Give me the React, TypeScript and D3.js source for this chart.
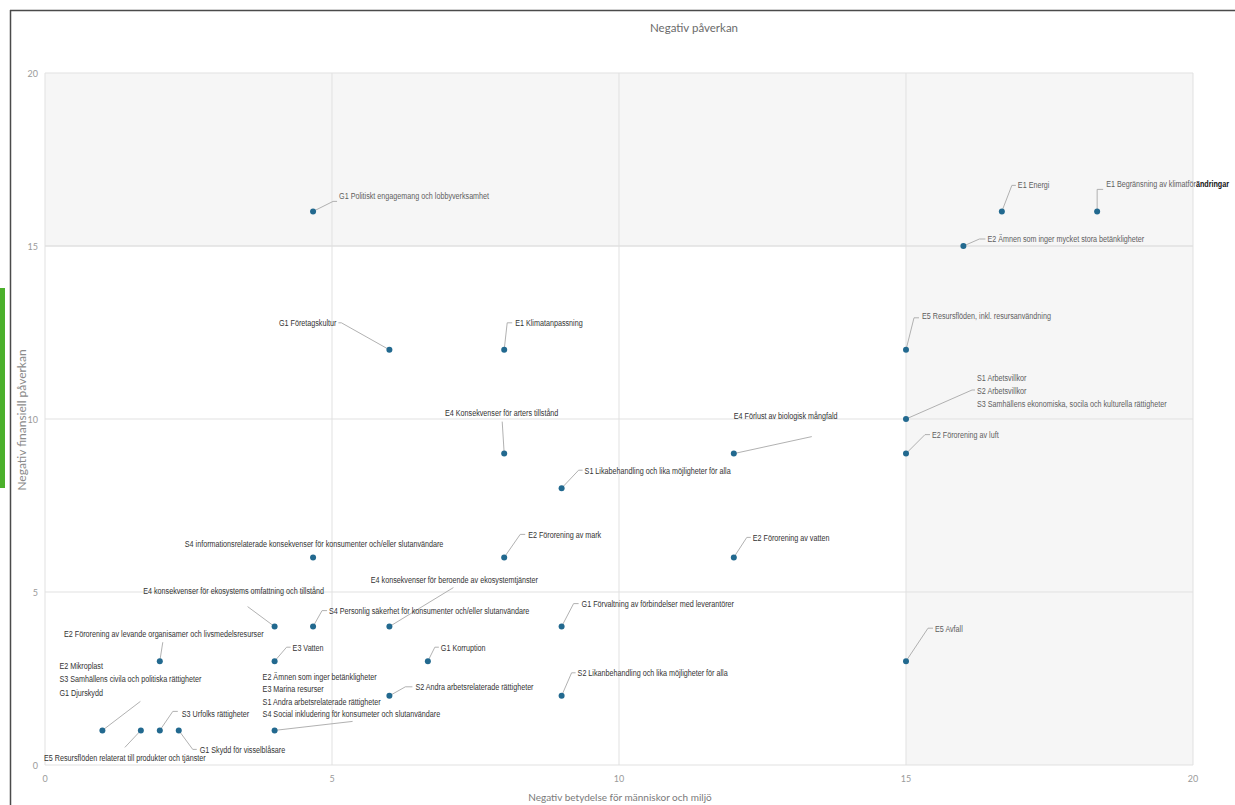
import React from "react";
import * as d3 from "d3";

// ---- data ----
const labels: string[] = [
  "G1 Politiskt engagemang och lobbyverksamhet",
  "E1 Energi",
  "E1 Begränsning av klimatförändringar",
  "E2 Ämnen som inger mycket stora betänkligheter",
  "G1 Företagskultur",
  "E1 Klimatanpassning",
  "E5 Resursflöden, inkl. resursanvändning",
  "S1 Arbetsvillkor\nS2 Arbetsvillkor\nS3 Samhällens ekonomiska, socila och kulturella rättigheter",
  "E4 Konsekvenser för arters tillstånd",
  "E4 Förlust av biologisk mångfald",
  "E2 Förorening av luft",
  "S1 Likabehandling och lika möjligheter för alla",
  "S4 informationsrelaterade konsekvenser för konsumenter och/eller slutanvändare",
  "E2 Förorening av mark",
  "E2 Förorening av vatten",
  "E4 konsekvenser för ekosystems omfattning och tillstånd",
  "S4 Personlig säkerhet för konsumenter och/eller slutanvändare",
  "E4 konsekvenser för beroende av ekosystemtjänster",
  "G1 Förvaltning av förbindelser med leverantörer",
  "E2 Förorening av levande organisamer och livsmedelsresurser",
  "E3 Vatten",
  "G1 Korruption",
  "E5 Avfall",
  "S2 Andra arbetsrelaterade rättigheter",
  "S2 Likanbehandling och lika möjligheter för alla",
  "E2 Mikroplast\nS3 Samhällens civila och politiska rättigheter\nG1 Djurskydd",
  "E5 Resursflöden relaterat till produkter och tjänster",
  "S3 Urfolks rättigheter",
  "G1 Skydd för visselblåsare",
  "E2 Ämnen som inger betänkligheter\nE3 Marina resurser\nS1 Andra arbetsrelaterade rättigheter\nS4 Social inkludering för konsumeter och slutanvändare",
];

const impactValues: number[] = [
  4.67, 16.67, 18.33, 16, 6, 8, 15, 15, 8, 12, 15, 9, 4.67, 8, 12, 4, 4.67, 6, 9, 2, 4,
  6.67, 15, 6, 9, 1, 1.67, 2, 2.33, 4,
];

const financialValues: number[] = [
  16, 16, 16, 15, 12, 12, 12, 10, 9, 9, 9, 8, 6, 6, 6, 4, 4, 4, 4, 3, 3, 3, 3, 2, 2, 1, 1,
  1, 1, 1,
];

const tickValues: number[] = [0, 5, 10, 15, 20];

const chartTitle = "Negativ påverkan";
const xTitle = "Negativ betydelse för människor och miljö";
const yTitle = "Negativ finansiell påverkan";

// ---- label layout (pixel offsets from the point) ----
type Layout = {
  dx: number;
  dy: number;
  anchor: "start" | "middle" | "end";
  leader: [number, number][];
  lh?: number;
};

const labelLayout: Layout[] = [
  { dx: 26, dy: -16, anchor: "start", leader: [[20, -10], [24, -10]] },
  { dx: 16, dy: -27, anchor: "start", leader: [[10, -26], [14, -26]] },
  { dx: 9, dy: -28, anchor: "start", leader: [[0, -22], [6, -22]] },
  { dx: 24, dy: -7, anchor: "start", leader: [[16, -7], [22, -7]] },
  { dx: -53, dy: -27, anchor: "end", leader: [[-48, -27], [-51, -27]] },
  { dx: 11, dy: -27, anchor: "start", leader: [[3, -27], [8, -27]] },
  { dx: 16, dy: -34, anchor: "start", leader: [[8, -32], [13, -32]] },
  { dx: 71, dy: -41, anchor: "start", leader: [[66, -29], [69, -29]], lh: 13 },
  { dx: -2.5, dy: -41, anchor: "middle", leader: [[-2, -32]] },
  { dx: 0, dy: -38, anchor: "start", leader: [[78, -17]] },
  { dx: 26, dy: -19, anchor: "start", leader: [[19, -19], [24, -19]] },
  { dx: 23, dy: -18, anchor: "start", leader: [[17, -18], [21, -18]] },
  { dx: 1, dy: -14, anchor: "middle", leader: [] },
  { dx: 24, dy: -23, anchor: "start", leader: [[16, -23], [21, -23]] },
  { dx: 19, dy: -20, anchor: "start", leader: [[13, -20], [17, -20]] },
  { dx: -41, dy: -36, anchor: "middle", leader: [[-27, -20]] },
  { dx: 16, dy: -16, anchor: "start", leader: [[9, -16], [14, -16]] },
  { dx: 65, dy: -47, anchor: "middle", leader: [[64, -39]] },
  { dx: 20, dy: -23, anchor: "start", leader: [[12, -23], [17, -23]] },
  { dx: 4, dy: -28, anchor: "middle", leader: [[3, -19]] },
  { dx: 18, dy: -14, anchor: "start", leader: [[12, -14], [16, -14]] },
  { dx: 13, dy: -14, anchor: "start", leader: [[7, -14], [11, -14]] },
  { dx: 29, dy: -33, anchor: "start", leader: [[22, -33], [27, -33]] },
  { dx: 26, dy: -9, anchor: "start", leader: [[16, -9], [23, -9]] },
  { dx: 16, dy: -23, anchor: "start", leader: [[10, -23], [14, -23]] },
  { dx: -43, dy: -65, anchor: "start", leader: [[38, -29]], lh: 13.5 },
  { dx: -16, dy: 27, anchor: "middle", leader: [[-16, 17]] },
  { dx: 22, dy: -17, anchor: "start", leader: [[13, -19], [18, -19]] },
  { dx: 21, dy: 19, anchor: "start", leader: [[14, 19], [18, 19]] },
  { dx: -12, dy: -54, anchor: "start", leader: [[78, -9]], lh: 12.5 },
];

const W = 1235;
const H = 805;
const LABEL_FONT = "'Liberation Sans', Arial, sans-serif";
const LABEL_SCALE = 0.8;
const UI_FONT = "Lato, 'Open Sans', 'Noto Sans', sans-serif";

export default function App() {
  const x = d3.scaleLinear().domain([0, 20]).range([45, 1193]);
  const y = d3.scaleLinear().domain([0, 20]).range([765, 73]);
  const line = d3.line<[number, number]>();

  const points = labels.map((name, i) => ({
    name,
    vx: impactValues[i],
    vy: financialValues[i],
    px: x(impactValues[i]),
    py: y(financialValues[i]),
    layout: labelLayout[i],
  }));

  const shade = "#f6f6f6";
  const grid = "#e1e1e1";

  return (
    <div style={{ position: "absolute", left: 0, top: 0 }}>
      <svg width={W} height={H} style={{ display: "block", background: "#fff" }}>
        {/* frame */}
        <line x1={10.5} y1={10} x2={10.5} y2={H} stroke="#4a4a4a" strokeWidth={1.5} />
        <line x1={10} y1={10.5} x2={W} y2={10.5} stroke="#4a4a4a" strokeWidth={1.5} />
        <rect x={0} y={288} width={5} height={200} fill="#4bb02b" />

        {/* shaded quadrants */}
        <rect x={x(0)} y={y(20)} width={x(20) - x(0)} height={y(15) - y(20)} fill={shade} />
        <rect x={x(15)} y={y(15)} width={x(20) - x(15)} height={y(0) - y(15)} fill={shade} />

        {/* grid */}
        {tickValues.map((t) => (
          <line key={"gx" + t} x1={x(t)} x2={x(t)} y1={y(0)} y2={y(20)} stroke={grid} strokeWidth={1} />
        ))}
        {tickValues.map((t) => (
          <line key={"gy" + t} x1={x(0)} x2={x(20)} y1={y(t)} y2={y(t)} stroke={grid} strokeWidth={t === 15 ? 1.4 : 1} />
        ))}

        {/* ticks */}
        {tickValues.map((t) => (
          <text key={"tx" + t} x={x(t)} y={778} textAnchor="middle" dominantBaseline="central"
            fontFamily={UI_FONT} fontSize={9} fill="#9a9a9a">{t}</text>
        ))}
        {tickValues.map((t) => (
          <text key={"ty" + t} x={38} y={y(t)} textAnchor="end" dominantBaseline="central"
            fontFamily={UI_FONT} fontSize={9} fill="#9a9a9a">{t}</text>
        ))}

        {/* titles */}
        <text x={694} y={27} textAnchor="middle" dominantBaseline="central" fontFamily={UI_FONT}
          fontSize={11.5} fill="#6b6b6b">{chartTitle}</text>
        <text x={620} y={797} textAnchor="middle" dominantBaseline="central" fontFamily={UI_FONT}
          fontSize={10} fill="#7a7a7a">{xTitle}</text>
        <text transform={`translate(21,420) rotate(-90)`} textAnchor="middle" dominantBaseline="central"
          fontFamily={UI_FONT} fontSize={12} fill="#8a8a8a">{yTitle}</text>

        {/* leaders */}
        {points.map((p, i) =>
          p.layout.leader.length ? (
            <path key={"l" + i}
              d={line([[p.px, p.py], ...p.layout.leader.map(([a, b]) => [p.px + a, p.py + b] as [number, number])]) || ""}
              fill="none" stroke="#a8a8a8" strokeWidth={0.9} />
          ) : null
        )}

        {/* points */}
        {points.map((p, i) => (
          <circle key={"c" + i} cx={p.px} cy={p.py} r={3} fill="#22698f" />
        ))}

        {/* labels */}
        {points.map((p, i) => {
          const lines = p.name.split("\n");
          const lh = p.layout.lh ?? 13;
          const shaded = p.vx >= 15 || p.vy >= 15;
          const fill = shaded ? "#5e5e5e" : "#333333";
          return (
            <g key={"t" + i} transform={`translate(${p.px + p.layout.dx},${p.py + p.layout.dy}) scale(${LABEL_SCALE},1)`}>
              <text x={0} y={0} textAnchor={p.layout.anchor}
                dominantBaseline="central" fontFamily={LABEL_FONT} fontSize={9} fill={fill}>
                {lines.map((ln, j) => {
                  if (ln === "E1 Begränsning av klimatförändringar") {
                    return (
                      <tspan key={j} x={0} dy={j === 0 ? 0 : lh}>
                        E1 Begränsning av klimatför<tspan fill="#111" fontWeight="bold">ändringar</tspan>
                      </tspan>
                    );
                  }
                  return (
                    <tspan key={j} x={0} dy={j === 0 ? 0 : lh}>{ln}</tspan>
                  );
                })}
              </text>
            </g>
          );
        })}
      </svg>
    </div>
  );
}
